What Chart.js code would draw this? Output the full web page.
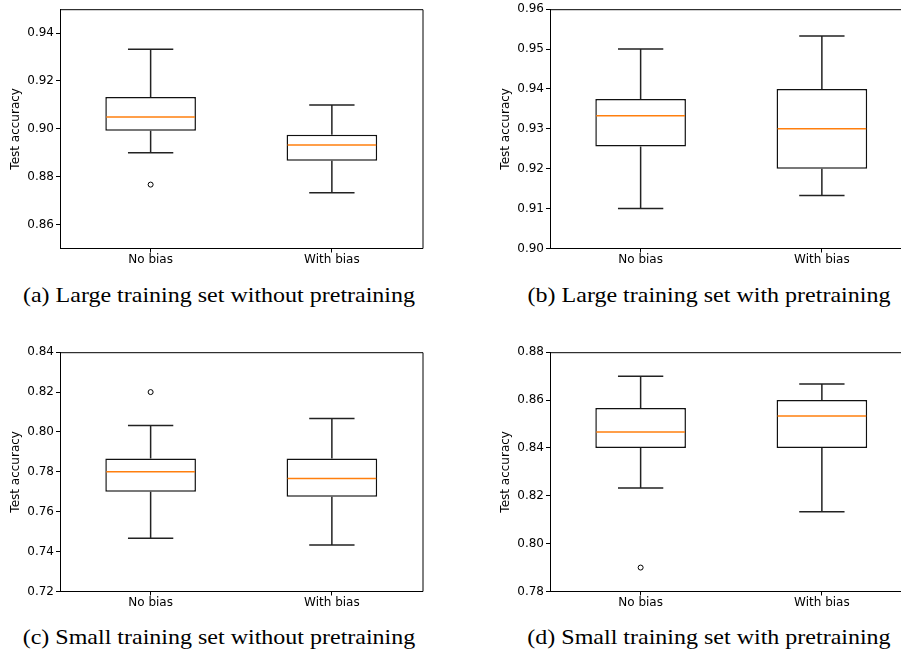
<!DOCTYPE html>
<html>
<head>
<meta charset="utf-8">
<script src="https://cdn.jsdelivr.net/npm/chart.js@4.4.1/dist/chart.umd.min.js"></script>
<style>
    html, body { margin: 0; padding: 0; background: #fff; }
    body { width: 901px; height: 655px; position: relative; overflow: hidden; }
    .panel { position: absolute; }
    .caption {
        position: absolute;
        width: 480px;
        text-align: center;
        font-family: 'Liberation Serif', 'Times New Roman', serif;
        font-size: 24px;
        color: #000;
        white-space: nowrap;
        line-height: 1;
        transform: scaleY(0.88);
    }
</style>
</head>
<body>
<canvas id="chartA" class="panel" width="470" height="270" style="left:0px;top:0px"></canvas>
<canvas id="chartB" class="panel" width="470" height="270" style="left:490px;top:0px"></canvas>
<canvas id="chartC" class="panel" width="470" height="270" style="left:0px;top:343px"></canvas>
<canvas id="chartD" class="panel" width="470" height="270" style="left:490px;top:343px"></canvas>
<div id="capA" class="caption" style="left:-21px;top:283px"></div>
<div id="capB" class="caption" style="left:469px;top:283px"></div>
<div id="capC" class="caption" style="left:-21px;top:625px"></div>
<div id="capD" class="caption" style="left:469px;top:625px"></div>

<script>
"use strict";

// Daten
const categories = ['No bias', 'With bias'];
const captions = [
    '(a) Large training set without pretraining',
    '(b) Large training set with pretraining',
    '(c) Small training set without pretraining',
    '(d) Small training set with pretraining'
];

// je Panel: [No bias, With bias]
const whiskerLow  = [[0.8900, 0.8733], [0.9100, 0.9133], [0.7467, 0.7433], [0.8233, 0.8133]];
const quart1      = [[0.8992, 0.8867], [0.9256, 0.9200], [0.7700, 0.7675], [0.8400, 0.8400]];
const median      = [[0.9050, 0.8933], [0.9333, 0.9300], [0.7800, 0.7767], [0.8467, 0.8533]];
const quart3      = [[0.9133, 0.8975], [0.9375, 0.9400], [0.7867, 0.7867], [0.8567, 0.8600]];
const whiskerHigh = [[0.9333, 0.9100], [0.9500, 0.9533], [0.8033, 0.8067], [0.8700, 0.8667]];
const outliers    = [[[0.8767], []], [[], []], [[0.8200], []], [[0.7900], []]];

// achsen
const yMin = [0.85, 0.90, 0.72, 0.78];
const yMax = [0.95, 0.96, 0.84, 0.88];
const yTicks = [
    [0.86, 0.88, 0.90, 0.92, 0.94],
    [0.90, 0.91, 0.92, 0.93, 0.94, 0.95, 0.96],
    [0.72, 0.74, 0.76, 0.78, 0.80, 0.82, 0.84],
    [0.78, 0.80, 0.82, 0.84, 0.86, 0.88]
];

const tickFont = { family: 'DejaVu Sans', size: 12 };

document.addEventListener('DOMContentLoaded', init);

function init() {
    ['chartA', 'chartB', 'chartC', 'chartD'].forEach((id, p) => buildChart(id, p));
    ['capA', 'capB', 'capC', 'capD'].forEach((id, p) => {
        document.getElementById(id).textContent = captions[p];
    });
}

function buildChart(canvasId, p) {
    const ctx = document.getElementById(canvasId).getContext('2d');

    // whisker, caps, median und rahmen zeichnen
    const boxPlugin = {
        id: 'boxStats',
        afterDatasetsDraw(chart) {
            const c = chart.ctx;
            const xs = chart.scales.x;
            const ys = chart.scales.y;
            const meta = chart.getDatasetMeta(0);
            const area = chart.chartArea;

            c.save();
            categories.forEach((cat, i) => {
                const x = xs.getPixelForValue(i);
                const half = meta.data[i].width / 2;
                const capHalf = half / 2;
                const yLow = ys.getPixelForValue(whiskerLow[p][i]);
                const yQ1 = ys.getPixelForValue(quart1[p][i]);
                const yQ3 = ys.getPixelForValue(quart3[p][i]);
                const yHigh = ys.getPixelForValue(whiskerHigh[p][i]);
                const yMed = ys.getPixelForValue(median[p][i]);

                c.strokeStyle = '#222';
                c.lineWidth = 1.5;
                c.beginPath();
                c.moveTo(x, yQ1); c.lineTo(x, yLow);
                c.moveTo(x, yQ3); c.lineTo(x, yHigh);
                c.moveTo(x - capHalf, yLow); c.lineTo(x + capHalf, yLow);
                c.moveTo(x - capHalf, yHigh); c.lineTo(x + capHalf, yHigh);
                c.stroke();

                c.strokeStyle = '#ff7f0e';
                c.lineWidth = 1.5;
                c.beginPath();
                c.moveTo(x - half + 1, yMed); c.lineTo(x + half - 1, yMed);
                c.stroke();
            });

            // rahmen oben und rechts
            c.strokeStyle = '#000';
            c.lineWidth = 1;
            c.beginPath();
            c.moveTo(area.left, area.top + 0.5);
            c.lineTo(area.right + 0.5, area.top + 0.5);
            c.lineTo(area.right + 0.5, area.bottom);
            c.stroke();
            c.restore();
        }
    };

    const outlierPoints = [];
    categories.forEach((cat, i) => {
        outliers[p][i].forEach(v => outlierPoints.push({ x: cat, y: v }));
    });

    new Chart(ctx, {
        type: 'bar',
        data: {
            labels: categories,
            datasets: [{
                data: categories.map((cat, i) => [quart1[p][i], quart3[p][i]]),
                backgroundColor: '#fff',
                borderColor: '#111',
                borderWidth: 1.5,
                borderSkipped: false,
                barPercentage: 0.5,
                categoryPercentage: 1
            }, {
                type: 'scatter',
                data: outlierPoints,
                pointStyle: 'circle',
                pointRadius: 2.5,
                borderWidth: 1,
                borderColor: '#000',
                backgroundColor: '#fff'
            }]
        },
        options: {
            responsive: false,
            animation: false,
            events: [],
            layout: { padding: { top: 7, right: 47.5, bottom: 0, left: 0 } },
            plugins: {
                legend: { display: false },
                tooltip: { enabled: false }
            },
            scales: {
                x: {
                    type: 'category',
                    offset: true,
                    grid: { offset: false, drawOnChartArea: false, tickLength: 4, tickColor: '#000' },
                    border: { color: '#000', width: 1 },
                    ticks: { color: '#000', font: tickFont, padding: 0, maxRotation: 0 },
                    afterFit: scale => { scale.height = 21.5; }
                },
                y: {
                    min: yMin[p],
                    max: yMax[p],
                    grid: { drawOnChartArea: false, tickLength: 4, tickColor: '#000' },
                    border: { color: '#000', width: 1 },
                    ticks: {
                        color: '#000',
                        font: tickFont,
                        padding: 2,
                        callback: v => v.toFixed(2)
                    },
                    afterBuildTicks: scale => {
                        scale.ticks = yTicks[p].map(v => ({ value: v }));
                    },
                    afterFit: scale => { scale.width = 60; },
                    title: {
                        display: true,
                        text: 'Test accuracy',
                        color: '#000',
                        font: tickFont,
                        padding: { top: 9, bottom: 0 }
                    }
                }
            }
        },
        plugins: [boxPlugin]
    });
}
</script>
</body>
</html>
